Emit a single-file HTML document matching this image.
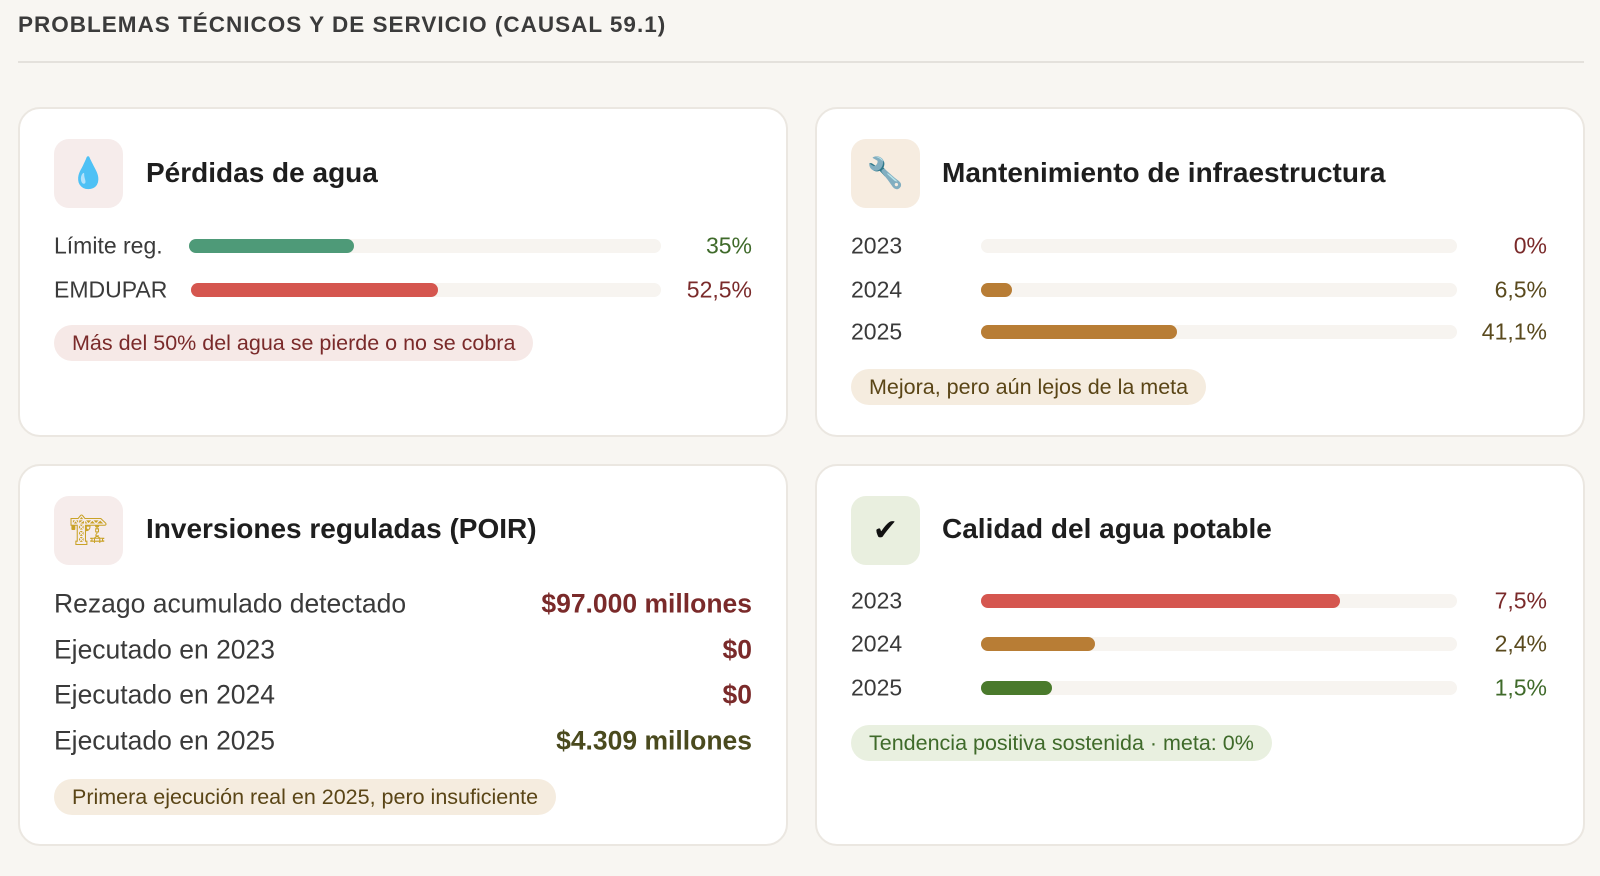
<!DOCTYPE html>
<html><head><meta charset="utf-8"><style>
*{margin:0;padding:0;box-sizing:border-box}
body{width:1600px;height:876px;background:#f8f6f2;font-family:"Liberation Sans","DejaVu Sans",sans-serif;position:relative;overflow:hidden;color:#333}
.a{position:absolute}
.h{left:18px;top:12px;font-size:22.5px;letter-spacing:1px;color:#3b3b3b;font-weight:600}
.hr{left:18px;top:61px;width:1566px;height:2px;background:#e4e1dc}
.card{position:absolute;background:#fff;border:2px solid #ebe7e1;border-radius:22px}
.ic{position:absolute;width:69px;height:69px;border-radius:15px;display:flex;align-items:center;justify-content:center;font-size:30px}
.t{position:absolute;font-size:28px;font-weight:600;color:#1e1e1e;transform:translateY(-50%)}
.l{position:absolute;font-size:23px;color:#3a3a3a;transform:translateY(-50%)}
.v{position:absolute;font-size:23px;transform:translateY(-50%);text-align:right}
.tr{position:absolute;height:14px;border-radius:7px;background:#f7f4f0;transform:translateY(-50%)}
.f{height:14px;border-radius:7px}
.b{position:absolute;height:36px;border-radius:18px;font-size:21.5px;line-height:36px;padding:0 18px}
.big{font-size:26.5px}
</style></head><body>
<div class="a h">PROBLEMAS TÉCNICOS Y DE SERVICIO (CAUSAL 59.1)</div>
<div class="a hr"></div>

<div class="card" style="left:18px;top:107px;width:770px;height:330px"></div>
<div class="ic" style="left:54px;top:139px;background:#f6eceb;color:#3b8fd8">💧</div>
<div class="t" style="left:146px;top:173px">Pérdidas de agua</div>
<div class="l" style="left:54px;top:246px">Límite reg.</div>
<div class="tr" style="left:189px;top:246px;width:472px"><div class="f" style="width:35%;background:#4e9a78"></div></div>
<div class="v" style="right:848px;top:246px;color:#3f6a2a">35%</div>
<div class="l" style="left:54px;top:290px">EMDUPAR</div>
<div class="tr" style="left:191px;top:290px;width:470px"><div class="f" style="width:52.5%;background:#d5564f"></div></div>
<div class="v" style="right:848px;top:290px;color:#7a2a2a">52,5%</div>
<div class="b" style="left:54px;top:325px;background:#f6e9e7;color:#7a2a2a">Más del 50% del agua se pierde o no se cobra</div>

<div class="card" style="left:815px;top:107px;width:770px;height:330px"></div>
<div class="ic" style="left:851px;top:139px;background:#f6ece0;color:#777">🔧</div>
<div class="t" style="left:942px;top:173px">Mantenimiento de infraestructura</div>
<div class="l" style="left:851px;top:246px">2023</div>
<div class="tr" style="left:981px;top:246px;width:476px"></div>
<div class="v" style="right:53px;top:246px;color:#7a2a2a">0%</div>
<div class="l" style="left:851px;top:290px">2024</div>
<div class="tr" style="left:981px;top:290px;width:476px"><div class="f" style="width:6.5%;background:#b87d35"></div></div>
<div class="v" style="right:53px;top:290px;color:#5a4a1e">6,5%</div>
<div class="l" style="left:851px;top:332px">2025</div>
<div class="tr" style="left:981px;top:332px;width:476px"><div class="f" style="width:41.1%;background:#b87d35"></div></div>
<div class="v" style="right:53px;top:332px;color:#5a4a1e">41,1%</div>
<div class="b" style="left:851px;top:369px;background:#f5ecdf;color:#5a4516">Mejora, pero aún lejos de la meta</div>

<div class="card" style="left:18px;top:464px;width:770px;height:382px"></div>
<div class="ic" style="left:54px;top:496px;background:#f6eceb;color:#c9a227">🏗</div>
<div class="t" style="left:146px;top:529px">Inversiones reguladas (POIR)</div>
<div class="l big" style="left:54px;top:604px">Rezago acumulado detectado</div>
<div class="v big" style="right:848px;top:604px;color:#7a2a2a;font-weight:600">$97.000 millones</div>
<div class="l big" style="left:54px;top:650px">Ejecutado en 2023</div>
<div class="v big" style="right:848px;top:650px;color:#7a2a2a;font-weight:600">$0</div>
<div class="l big" style="left:54px;top:695px">Ejecutado en 2024</div>
<div class="v big" style="right:848px;top:695px;color:#7a2a2a;font-weight:600">$0</div>
<div class="l big" style="left:54px;top:741px">Ejecutado en 2025</div>
<div class="v big" style="right:848px;top:741px;color:#4a4a1e;font-weight:600">$4.309 millones</div>
<div class="b" style="left:54px;top:779px;background:#f5ecdf;color:#5a4516">Primera ejecución real en 2025, pero insuficiente</div>

<div class="card" style="left:815px;top:464px;width:770px;height:382px"></div>
<div class="ic" style="left:851px;top:496px;background:#e9efdf;color:#111">✔</div>
<div class="t" style="left:942px;top:529px">Calidad del agua potable</div>
<div class="l" style="left:851px;top:601px">2023</div>
<div class="tr" style="left:981px;top:601px;width:476px"><div class="f" style="width:75.5%;background:#d5564f"></div></div>
<div class="v" style="right:53px;top:601px;color:#7a2a2a">7,5%</div>
<div class="l" style="left:851px;top:644px">2024</div>
<div class="tr" style="left:981px;top:644px;width:476px"><div class="f" style="width:24%;background:#b87d35"></div></div>
<div class="v" style="right:53px;top:644px;color:#5a4a1e">2,4%</div>
<div class="l" style="left:851px;top:688px">2025</div>
<div class="tr" style="left:981px;top:688px;width:476px"><div class="f" style="width:15%;background:#4a7a2c"></div></div>
<div class="v" style="right:53px;top:688px;color:#3f6a2a">1,5%</div>
<div class="b" style="left:851px;top:725px;background:#e9f0e0;color:#3f6a2a">Tendencia positiva sostenida · meta: 0%</div>
</body></html>
